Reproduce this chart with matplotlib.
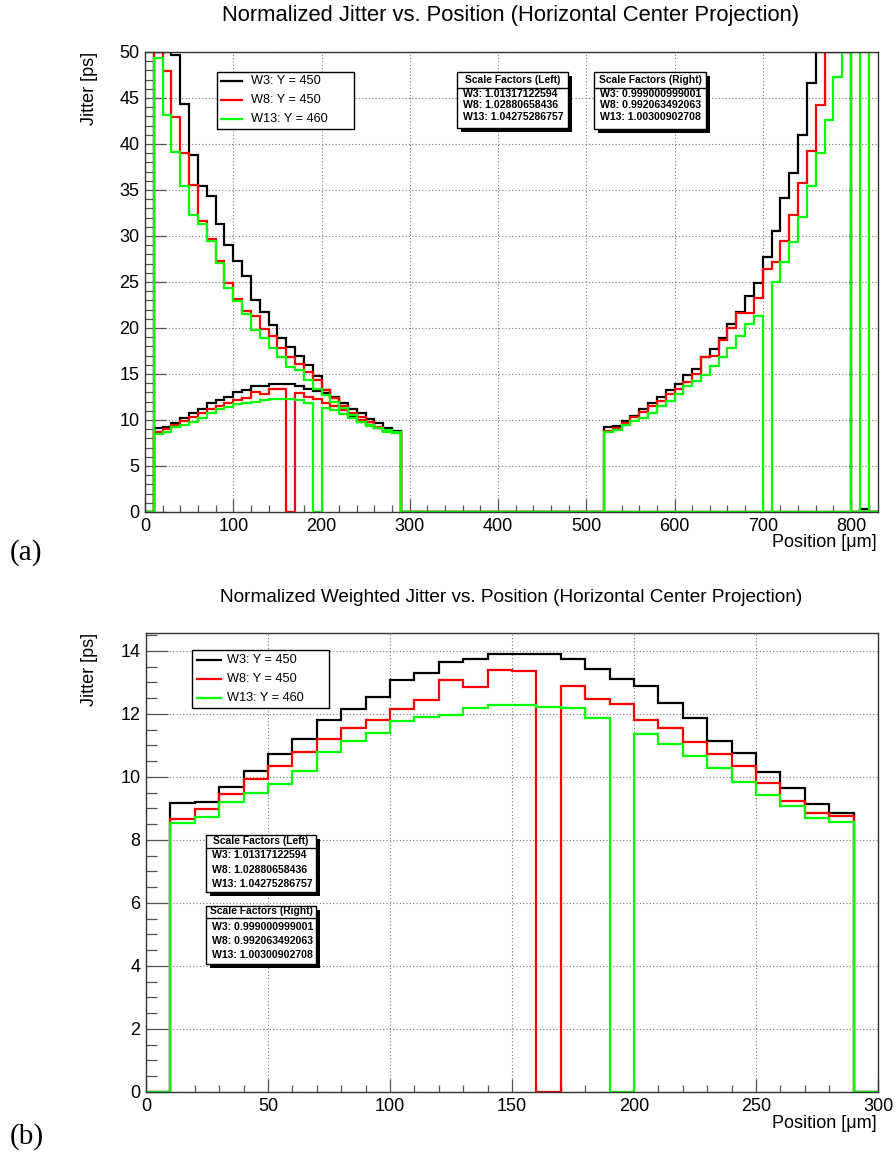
import numpy as np
import matplotlib
matplotlib.use('Agg')
import matplotlib.pyplot as plt
from matplotlib.patches import Rectangle
from matplotlib.lines import Line2D
from matplotlib.ticker import MultipleLocator

plt.rcParams['font.family'] = ['Liberation Sans', 'DejaVu Sans']

# ---------------- data ----------------
BIN = 10.0
labels = ["W3: Y = 450", "W8: Y = 450", "W13: Y = 460"]
wafers = ["W3", "W8", "W13"]
colors = ["#000000", "#ff0000", "#00ff00"]
scale_left = ["1.01317122594", "1.02880658436", "1.04275286757"]
scale_right = ["0.999000999001", "0.992063492063", "1.00300902708"]

# weighted jitter, bins 10..290 (step 10)
w3_weighted = [9.17, 9.21, 9.67, 10.20, 10.72, 11.22, 11.80, 12.17, 12.55, 13.08,
               13.29, 13.65, 13.73, 13.89, 13.89, 13.89, 13.75, 13.42, 13.10, 12.90,
               12.36, 11.88, 11.15, 10.75, 10.15, 9.64, 9.15, 8.85]
w8_weighted = [8.66, 8.99, 9.45, 9.94, 10.36, 10.80, 11.20, 11.55, 11.81, 12.17,
               12.44, 13.08, 12.85, 13.38, 13.35, 0.0, 12.90, 12.47, 12.33, 11.81,
               11.57, 11.10, 10.72, 10.36, 9.82, 9.24, 8.87, 8.75]
w13_weighted = [8.53, 8.74, 9.19, 9.50, 9.77, 10.20, 10.80, 11.15, 11.39, 11.78,
                11.89, 11.97, 12.18, 12.30, 12.30, 12.23, 12.18, 11.88, 0.0, 11.35,
                11.05, 10.65, 10.27, 9.83, 9.43, 9.08, 8.69, 8.56]

# jitter, left region, bins 10..290 (50.0 = off scale)
w3_left = [50.0, 50.0, 49.7, 44.3, 38.8, 35.4, 34.4, 31.3, 29.0, 27.3,
           25.65, 23.0, 21.7, 20.3, 18.95, 17.97, 16.96, 15.98, 14.8, 13.3,
           12.5, 11.5, 10.4, 9.8, 9.46, 9.17, 8.84, 8.66]
w8_left = [50.0, 47.9, 42.9, 39.0, 35.5, 31.6, 29.7, 27.3, 24.9, 23.2,
           21.8, 21.3, 19.9, 19.1, 17.8, 16.9, 16.05, 15.2, 14.4, 13.3,
           12.4, 11.5, 10.6, 10.0, 9.5, 9.1, 8.8, 8.6]
w13_left = [49.4, 43.2, 39.1, 35.4, 32.3, 31.3, 29.5, 27.1, 24.3, 22.9,
            21.5, 19.8, 18.9, 17.8, 16.8, 15.8, 15.4, 14.35, 13.4, 12.7,
            12.0, 11.3, 10.5, 9.8, 9.35, 9.1, 8.9, 8.66]

# jitter, right region, bins 520..830
w3_right = [9.28, 9.38, 9.89, 10.47, 11.16, 11.88, 12.54, 13.26, 13.88, 14.86,
            15.54, 16.88, 17.72, 18.88, 20.43, 21.77, 23.48, 24.9, 27.75, 30.5,
            34.1, 36.9, 41.0, 46.6, 50.0, 50.0, 50.0, 50.0, 0.0, 0.3, 0.0]
w8_right = [8.84, 9.17, 9.71, 10.29, 10.9, 11.52, 12.07, 12.79, 13.33, 14.17,
            15.0, 16.8, 16.96, 18.7, 19.96, 21.6, 21.6, 23.3, 26.4, 27.2,
            29.5, 32.3, 35.8, 39.2, 44.2, 50.0, 50.0, 50.0, 0.0, 0.0, 0.0]
w13_right = [8.73, 8.91, 9.46, 9.89, 10.25, 10.72, 11.52, 12.1, 12.83, 13.7,
             14.24, 14.9, 15.9, 16.88, 17.86, 19.17, 20.4, 21.3, 0.0, 25.0,
             27.2, 29.4, 32.1, 35.4, 39.0, 42.6, 47.25, 50.0, 0.0, 50.0, 0.0]

weighted = [w3_weighted, w8_weighted, w13_weighted]
left = [w3_left, w8_left, w13_left]
right = [w3_right, w8_right, w13_right]

XMAX_A, YMAX_A = 830, 50
XMAX_B, YMAX_B = 300, 14.57

# ---------------- figure ----------------
W, H = 896, 1156
fig = plt.figure(figsize=(W / 100, H / 100), dpi=100)


def fx(px):
    return px / W


def fy(py):
    return 1 - py / H


FRAME = '#333333'
LW = 1.6
TICKFS = 13


def style_axes(ax, xmaj, xmin, ymaj, ymin, ylen):
    ax.xaxis.set_major_locator(MultipleLocator(xmaj))
    ax.xaxis.set_minor_locator(MultipleLocator(xmin))
    ax.yaxis.set_major_locator(MultipleLocator(ymaj))
    ax.yaxis.set_minor_locator(MultipleLocator(ymin))
    ax.tick_params(axis='x', which='major', direction='in', length=9.5, width=0.9,
                   color='#555555', labelsize=TICKFS, pad=4)
    ax.tick_params(axis='x', which='minor', direction='in', length=5, width=0.9,
                   color='#555555')
    ax.tick_params(axis='y', which='major', direction='in', length=ylen, width=0.9,
                   color='#555555', labelsize=TICKFS, pad=4)
    ax.tick_params(axis='y', which='minor', direction='in', length=ylen / 2, width=0.9,
                   color='#555555')
    ax.grid(True, which='major', color='#777777', linestyle=(0, (1, 2)), linewidth=0.8)
    for s in ax.spines.values():
        s.set_color(FRAME)
        s.set_linewidth(1.0)
    ax.set_axisbelow(True)


def legend_box(x0, y0, x1, y1, line_x0, line_x1, text_x, rows):
    fig.add_artist(Rectangle((fx(x0), fy(y1)), fx(x1) - fx(x0), fy(y0) - fy(y1),
                             transform=fig.transFigure, facecolor='white',
                             edgecolor='black', linewidth=1.0, zorder=10))
    for lab, col, ry in zip(labels, colors, rows):
        fig.add_artist(Line2D([fx(line_x0), fx(line_x1)], [fy(ry), fy(ry)],
                              transform=fig.transFigure, color=col, lw=LW, zorder=11))
        fig.text(fx(text_x), fy(ry), lab, fontsize=9.2, va='center', ha='left', zorder=11)


def scale_box(x0, y0, w, h, header, values, header_off, sep_off, row_offs):
    sh = 4
    fig.add_artist(Rectangle((fx(x0 + sh), fy(y0 + h + sh)), w / W, h / H,
                             transform=fig.transFigure, facecolor='black',
                             edgecolor='black', linewidth=0, zorder=10))
    fig.add_artist(Rectangle((fx(x0), fy(y0 + h)), w / W, h / H,
                             transform=fig.transFigure, facecolor='white',
                             edgecolor='black', linewidth=1.0, zorder=11))
    fig.add_artist(Line2D([fx(x0), fx(x0 + w)], [fy(y0 + sep_off)] * 2,
                          transform=fig.transFigure, color='black', lw=1.0, zorder=12))
    fig.text(fx(x0 + w / 2), fy(y0 + header_off), header, fontsize=7.4,
             fontweight='bold', ha='center', va='center', zorder=12)
    for wf, v, ro in zip(wafers, values, row_offs):
        fig.text(fx(x0 + 6), fy(y0 + ro), f"{wf}: {v}", fontsize=7.6,
                 fontweight='bold', ha='left', va='center', zorder=12)


# ---------------- panel (a) ----------------
ax1 = fig.add_axes([fx(145), fy(512), (877.5 - 145) / W, 460 / H])
edges_a = np.arange(0, XMAX_A + BIN, BIN)
n_a = len(edges_a) - 1
for i in range(3):
    h_jit = np.zeros(n_a)
    h_jit[1:1 + len(left[i])] = left[i]
    start_r = int(520 / BIN)
    h_jit[start_r:start_r + len(right[i])] = right[i]
    h_w = np.zeros(n_a)
    h_w[1:1 + len(weighted[i])] = weighted[i]
    ax1.stairs(np.minimum(h_w, YMAX_A), edges_a, baseline=0, color=colors[i], lw=LW)
    ax1.stairs(np.minimum(h_jit, YMAX_A), edges_a, baseline=0, color=colors[i], lw=LW)
ax1.set_xlim(0, XMAX_A)
ax1.set_ylim(0, YMAX_A)
style_axes(ax1, 100, 20, 5, 1, 15)

fig.text(fx(511), fy(16), "Normalized Jitter vs. Position (Horizontal Center Projection)",
         fontsize=15.8, ha='center', va='center')
fig.text(fx(89), fy(52), "Jitter [ps]", fontsize=13, rotation=90, ha='center', va='top')
fig.text(fx(877), fy(543), "Position [\u03bcm]", fontsize=13, ha='right', va='center')
fig.text(fx(10), fy(553), "(a)", fontsize=21, family='Liberation Serif', ha='left', va='center')

legend_box(216.7, 71.7, 354, 129.3, 221, 242, 251, [80.7, 100, 119])
scale_box(456.7, 71.7, 111.6, 56.6, "Scale Factors (Left)", scale_left,
          8.0, 16.3, [22.0, 33.6, 45.7])
scale_box(594.3, 71.7, 111.4, 57.3, "Scale Factors (Right)", scale_right,
          8.0, 16.3, [22.0, 33.6, 45.7])

# ---------------- panel (b) ----------------
ax2 = fig.add_axes([fx(146), fy(1092), (878 - 146) / W, 459 / H])
edges_b = np.arange(0, XMAX_B + BIN, BIN)
n_b = len(edges_b) - 1
for i in range(3):
    h_w = np.zeros(n_b)
    h_w[1:1 + len(weighted[i])] = weighted[i]
    ax2.stairs(h_w, edges_b, baseline=0, color=colors[i], lw=LW)
ax2.set_xlim(0, XMAX_B)
ax2.set_ylim(0, YMAX_B)
style_axes(ax2, 50, 10, 2, 0.5, 16)

fig.text(fx(511), fy(597), "Normalized Weighted Jitter vs. Position (Horizontal Center Projection)",
         fontsize=13.7, ha='center', va='center')
fig.text(fx(89), fy(633), "Jitter [ps]", fontsize=13, rotation=90, ha='center', va='top')
fig.text(fx(877), fy(1123), "Position [\u03bcm]", fontsize=13, ha='right', va='center')
fig.text(fx(10), fy(1137), "(b)", fontsize=21, family='Liberation Serif', ha='left', va='center')

legend_box(191.7, 650, 329.3, 708.3, 197.3, 221, 227.3, [660, 679, 698.3])
scale_box(206, 835, 110, 56.5, "Scale Factors (Left)", scale_left,
          6.0, 13.3, [20.5, 35.0, 49.0])
scale_box(206, 906, 110, 58, "Scale Factors (Right)", scale_right,
          5.5, 12.3, [21.3, 35.0, 49.0])

fig.savefig("out.png", dpi=100)
